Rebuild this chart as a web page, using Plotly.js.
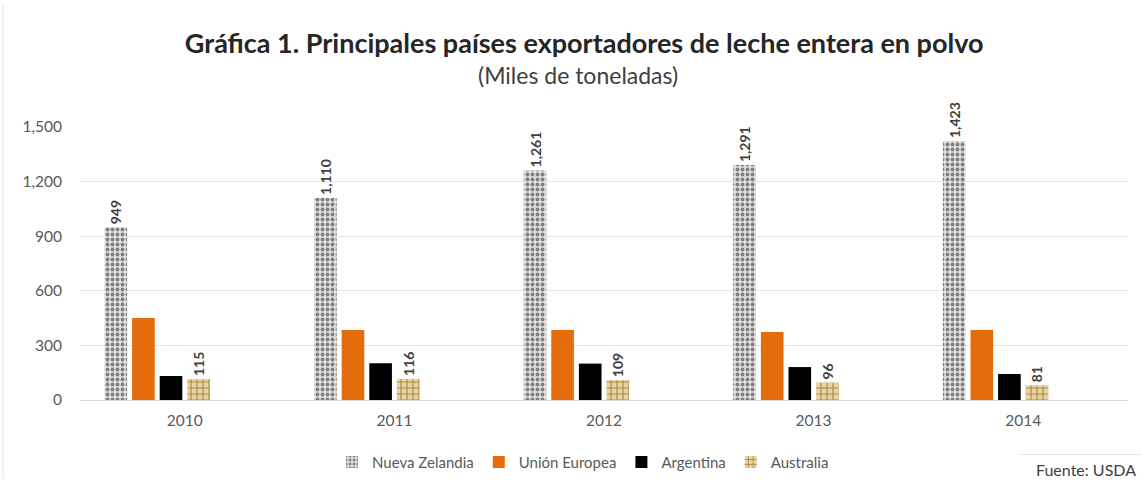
<!DOCTYPE html>
<html>
<head>
<meta charset="utf-8">
<script src="https://cdn.plot.ly/plotly-3.0.1.min.js"></script>
<style>html,body{margin:0;padding:0;background:#fff;}#chart{width:1141px;height:483px;}</style>
</head>
<body>
<div id="chart"></div>
<script>
const years = ["2010", "2011", "2012", "2013", "2014"];
const nuevaZelandia = [949, 1110, 1261, 1291, 1423];
const unionEuropea = [450, 385, 385, 374, 385];
const argentina = [132, 202, 200, 181, 143];
const australia = [115, 116, 109, 96, 81];
const emptySeries = [null, null, null, null, null];

const fmt = v => v.toLocaleString('en-US');
const FONT = "Lato, 'Open Sans', sans-serif";
const labelFont = {family: FONT, size: 14, color: "#404040", weight: 700};

const traces = [
  {
    type: 'bar', name: 'Nueva Zelandia', x: years, y: nuevaZelandia,
    marker: {color: '#d9d9d9', pattern: {shape: '.', fgcolor: '#7f7f7f', bgcolor: '#e0e0e0', size: 5, solidity: 0.45}},
    text: nuevaZelandia.map(fmt), textposition: 'outside', textangle: -90, constraintext: 'none',
    textfont: labelFont, cliponaxis: false
  },
  {
    type: 'bar', name: 'Unión Europea', x: years, y: unionEuropea,
    marker: {color: '#e46c0a'}, textposition: 'none'
  },
  {
    type: 'bar', name: 'Argentina', x: years, y: argentina,
    marker: {color: '#000000'}, textposition: 'none'
  },
  {
    type: 'bar', name: 'Australia', x: years, y: australia,
    marker: {color: '#d9c08a', pattern: {shape: '+', fgcolor: '#b08a3e', bgcolor: '#e6d4a8', size: 6, solidity: 0.35}},
    text: australia.map(fmt), textposition: 'outside', textangle: -90, constraintext: 'none',
    textfont: labelFont, cliponaxis: false
  },
  {type: 'bar', name: '', x: years, y: emptySeries, showlegend: false, hoverinfo: 'skip'},
  {type: 'bar', name: ' ', x: years, y: emptySeries, showlegend: false, hoverinfo: 'skip'}
];

const layout = {
  width: 1141, height: 483,
  paper_bgcolor: '#ffffff', plot_bgcolor: '#ffffff',
  margin: {l: 80, r: 13, t: 127, b: 83},
  barmode: 'group', bargap: 0.21, bargroupgap: 0.18,
  font: {family: FONT, color: '#595959'},
  title: {
    text: '<b>Gráfica 1. Principales países exportadores de leche entera en polvo</b>',
    font: {family: FONT, size: 27, color: '#262626'},
    x: 0.512, xanchor: 'center', y: 0.91, yanchor: 'middle'
  },
  annotations: [
    {text: '(Miles de toneladas)', xref: 'paper', yref: 'paper', x: 0.475, y: 1.19,
     xanchor: 'center', yanchor: 'middle', showarrow: false,
     font: {family: FONT, size: 23, color: '#404040'}},
    {text: 'Fuente: USDA', xref: 'paper', yref: 'paper', x: 1.01, y: -0.255,
     xanchor: 'right', yanchor: 'middle', showarrow: false,
     font: {family: FONT, size: 16, color: '#404040'}}
  ],
  xaxis: {
    type: 'category', showgrid: false, showline: true, linecolor: '#d9d9d9', linewidth: 1,
    ticks: '', tickfont: {size: 15.5, color: '#595959'}, ticklabelstandoff: 6, automargin: false
  },
  yaxis: {
    range: [0, 1500], tickvals: [0, 300, 600, 900, 1200, 1500],
    ticktext: ['0', '300', '600', '900', '1,200', '1,500'],
    showgrid: true, gridcolor: '#e3e3e3', gridwidth: 1, zeroline: false,
    showline: false, ticks: '', tickfont: {size: 15.5, color: '#595959'}, ticklabelstandoff: 17, automargin: false
  },
  legend: {
    orientation: 'h', x: 0.48, xanchor: 'center', y: 0.043, yref: 'container', yanchor: 'middle',
    font: {size: 15, color: '#595959'}, traceorder: 'normal', itemwidth: 30
  },
  shapes: [
    {type: 'line', xref: 'paper', yref: 'paper', x0: -0.0735, x1: -0.0735, y0: -0.29, y1: 1.45,
     line: {color: '#e3e3e3', width: 1}},
    {type: 'line', xref: 'paper', yref: 'paper', x0: 0.897, x1: 1.012, y0: -0.2, y1: -0.2,
     line: {color: '#e3e3e3', width: 1}}
  ]
};

Plotly.newPlot('chart', traces, layout, {displayModeBar: false, staticPlot: true});
</script>
</body>
</html>
